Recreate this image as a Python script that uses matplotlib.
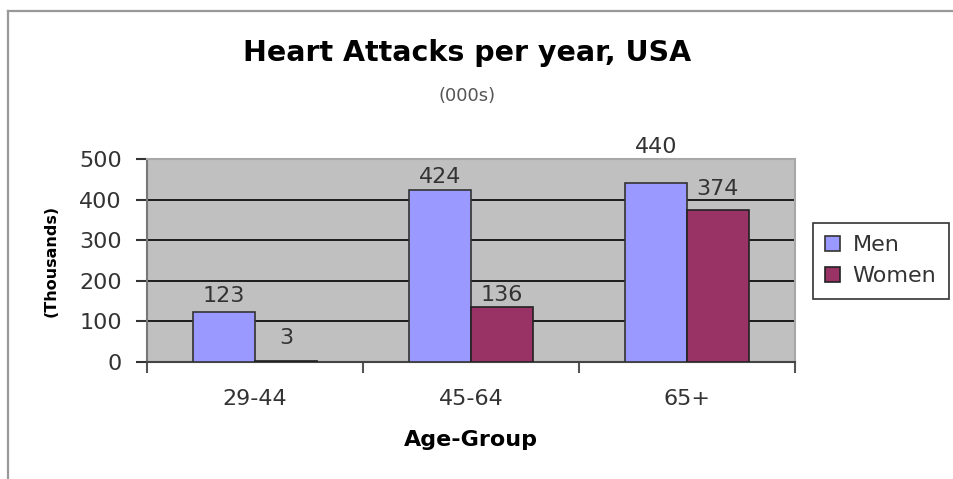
import matplotlib
matplotlib.use("Agg")
import matplotlib.pyplot as plt
import numpy as np
from matplotlib.lines import Line2D

categories = ["29-44", "45-64", "65+"]
men = [123, 424, 440]
women = [3, 136, 374]
series_names = ["Men", "Women"]
yticks = [0, 100, 200, 300, 400, 500]

# label offsets above bar tops, in pixels (style)
men_label_offsets = [6, 3, 26]
women_label_offsets = [13, 2, 11]

plt.rcParams['font.family'] = ['DejaVu Sans']

W, H = 954, 479
fig = plt.figure(figsize=(W / 100, H / 100), dpi=100)
fig.patch.set_facecolor("white")

# outer frame lines (left and top)
fig.add_artist(Line2D([8.5 / W, 8.5 / W], [-0.01, 1 - 10.5 / H], color="#999999", lw=1.6, transform=fig.transFigure))
fig.add_artist(Line2D([8.5 / W, 1.01], [1 - 10.5 / H, 1 - 10.5 / H], color="#999999", lw=1.6, transform=fig.transFigure))

left, right, top, bottom = 147, 795, 159, 362
ax = fig.add_axes([left / W, 1 - bottom / H, (right - left) / W, (bottom - top) / H])
ax.set_facecolor("#C0C0C0")

x = np.arange(len(categories))
bw = 0.2857
men_bars = ax.bar(x - bw / 2, men, bw, color="#9999FF", edgecolor="#333333", linewidth=1.2, zorder=3)
women_bars = ax.bar(x + bw / 2, women, bw, color="#993366", edgecolor="#222222", linewidth=1.2, zorder=3)

ax.set_xlim(-0.5, 2.5)
ax.set_ylim(0, 500)
ax.set_yticks(yticks)
ax.set_yticklabels([str(v) for v in yticks])
for v in yticks[1:-1]:
    ax.axhline(v, color="black", lw=1.2, zorder=1)

ax.set_xticks([-0.5, 0.5, 1.5, 2.5], minor=False)
ax.set_xticklabels([])
ax.set_xticks(x, minor=True)
ax.set_xticklabels(categories, minor=True)
ax.tick_params(axis="x", which="minor", length=0, pad=19.5, labelsize=16, labelcolor="#333333")
ax.tick_params(axis="x", which="major", length=8, width=1.5, color="#555555", direction="out")
ax.tick_params(axis="y", length=8, width=1.5, color="#333333", direction="out", pad=10,
               labelsize=16, labelcolor="#333333")

for s in ["top", "right"]:
    ax.spines[s].set_color("#a8a8a8")
    ax.spines[s].set_linewidth(1.5)
ax.spines["left"].set_color("#777777")
ax.spines["left"].set_linewidth(1.5)
ax.spines["bottom"].set_color("#444444")
ax.spines["bottom"].set_linewidth(1.5)

for bars, offs in ((men_bars, men_label_offsets), (women_bars, women_label_offsets)):
    for b, off in zip(bars, offs):
        h = b.get_height()
        ax.annotate(str(int(h)), (b.get_x() + b.get_width() / 2, h), xytext=(0, off * 0.72),
                    textcoords="offset points", ha="center", va="bottom",
                    fontsize=16, color="#333333", zorder=4, annotation_clip=False)

ax.set_ylabel("(Thousands)", fontsize=11.5, fontweight="bold", labelpad=15)
ax.set_xlabel("Age-Group", fontsize=16, fontweight="bold", labelpad=15)

fig.text(467 / W, 1 - 53 / H, "Heart Attacks per year, USA", ha="center", va="center",
         fontsize=20.5, fontweight="bold")
fig.text(467 / W, 1 - 96 / H, "(000s)", ha="center", va="center", fontsize=13, color="#555555")

leg = fig.legend([men_bars, women_bars], series_names, loc="upper left",
                 bbox_to_anchor=(813 / W, 1 - 223 / H), fontsize=16, frameon=True,
                 fancybox=False, borderpad=0.55, handlelength=0.68, handleheight=0.68,
                 handletextpad=0.55, labelspacing=0.5, borderaxespad=0)
leg.get_frame().set_edgecolor("black")
leg.get_frame().set_linewidth(1.2)
for t in leg.get_texts():
    t.set_color("#333333")

fig.savefig("out.png", dpi=100)
